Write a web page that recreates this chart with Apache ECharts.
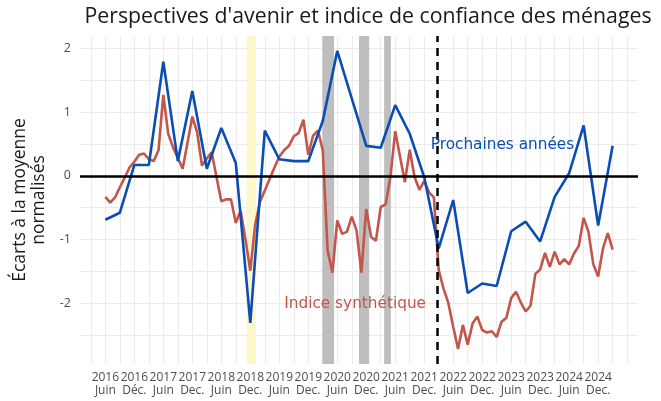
<!DOCTYPE html>
<html><head><meta charset="utf-8">
<script src="https://cdn.jsdelivr.net/npm/echarts@6/dist/echarts.min.js"></script>
<style>html,body{margin:0;padding:0;background:#fff}#c{width:661px;height:401px}</style>
</head><body><div id="c"></div>
<script>
// x values are months counted from June 2016 (0 = June 2016)
const redStartMonth = 0;
const redValues = [
 -0.33,-0.42,-0.34,-0.18,-0.03,0.13,0.22,0.33,0.35,0.26,0.23,0.40,
 1.27,0.66,0.45,0.28,0.11,0.52,0.93,0.68,0.16,0.27,0.37,-0.02,
 -0.40,-0.37,-0.37,-0.74,-0.55,-1.00,-1.49,-0.77,-0.41,-0.23,-0.05,0.13,
 0.30,0.40,0.47,0.62,0.67,0.88,0.33,0.63,0.71,0.40,-1.17,-1.52,
 -0.70,-0.91,-0.88,-0.64,-0.86,-1.52,-0.52,-0.96,-1.02,-0.49,-0.45,-0.02,
 0.70,0.30,-0.10,0.41,-0.02,-0.22,-0.08,-0.26,-0.34,-1.48,-1.77,-2.00,
 -2.37,-2.72,-2.34,-2.65,-2.32,-2.21,-2.42,-2.46,-2.44,-2.53,-2.29,-2.23,
 -1.92,-1.82,-1.99,-2.13,-2.04,-1.54,-1.47,-1.21,-1.43,-1.19,-1.39,-1.31,
 -1.39,-1.22,-1.10,-0.66,-0.88,-1.39,-1.58,-1.14,-0.90,-1.16
];
const blueMonths = [0,3,6,9,12,15,18,21,24,27,30,33,36,39,42,45,48,54,57,60,63,66,69,72,75,78,81,84,87,90,93,96,99,102,105];
const blueValues = [-0.69,-0.58,0.17,0.17,1.79,0.23,1.33,0.11,0.75,0.20,-2.31,0.71,0.26,0.23,0.23,0.86,1.96,0.47,0.44,1.11,0.66,-0.02,-1.14,-0.38,-1.84,-1.69,-1.73,-0.87,-0.72,-1.03,-0.33,0.04,0.79,-0.78,0.47];

const xTickValues = [0,6,12,18,24,30,36,42,48,54,60,66,72,78,84,90,96,102];
const xTickLabels = ['2016\nJuin','2016\nDéc.','2017\nJuin','2017\nDec.','2018\nJuin','2018\nDec.','2019\nJuin','2019\nDec.','2020\nJuin','2020\nDec.','2021\nJuin','2021\nDec.','2022\nJuin','2022\nDec.','2023\nJuin','2023\nDec.','2024\nJuin','2024\nDec.'];
const xGridValues = [-3,0,3,6,9,12,15,18,21,24,27,30,33,36,39,42,45,48,51,54,57,60,63,66,69,72,75,78,81,84,87,90,93,96,99,102,105,108];
const yTickValues = [-2,-1,0,1,2];
const yGridValues = [-2.5,-2,-1.5,-1,-0.5,0,0.5,1,1.5,2];

const yellowBand = [29.25, 31.15];
const grayBands = [[44.9, 47.35],[52.5, 54.6],[57.7, 59.1]];
const eventLine = 68.6;

const titleText = "Perspectives d'avenir et indice de confiance des ménages";
const blueName = 'Prochaines années';
const redName = 'Indice synthétique';
const blueLabelAt = [82.2, 0.48];
const redLabelAt = [51.7, -2.01];

const redData = redValues.map((v, i) => [redStartMonth + i, v]);
const blueData = blueMonths.map((m, i) => [m, blueValues[i]]);

const BLUE = '#0a4db3', RED = '#c4554a';
const FONT = 'Open Sans';
const chart = echarts.init(document.getElementById('c'), null, {renderer: 'canvas'});
chart.setOption({
  animation: false,
  backgroundColor: '#fff',
  title: {text: titleText, left: 363, top: 1, textAlign: 'center',
    textStyle: {fontFamily: FONT, fontSize: 21.3, fontWeight: 'normal', color: '#1a1a1a'}},
  grid: {left: 80, right: 23, top: 36, bottom: 37, containLabel: false, outerBoundsMode: 'none'},
  xAxis: {type: 'value', min: -5.25, max: 110.25,
    axisLine: {show: false},
    axisTick: {show: false, customValues: xGridValues},
    axisLabel: {customValues: xTickValues, hideOverlap: false, margin: 7, color: '#4d4d4d', fontFamily: FONT, fontSize: 12, lineHeight: 13,
      formatter: v => { const i = xTickValues.indexOf(v); return i >= 0 ? xTickLabels[i] : ''; }},
    splitLine: {show: true, lineStyle: {color: '#ebebeb', width: 1}}
  },
  yAxis: {type: 'value', min: -2.954, max: 2.194,
    name: 'Écarts à la moyenne\nnormalisés', nameLocation: 'middle', nameGap: 23, nameRotate: 90,
    nameTextStyle: {fontFamily: FONT, fontSize: 17.5, color: '#1a1a1a', lineHeight: 19},
    axisLine: {show: false},
    axisTick: {show: false, customValues: yGridValues},
    axisLabel: {customValues: yTickValues, margin: 9, color: '#4d4d4d', fontFamily: FONT, fontSize: 12.5},
    splitLine: {show: true, lineStyle: {color: '#ebebeb', width: 1}}
  },
  series: [
    {type: 'line', name: 'bands', data: [], z: 1, silent: true,
      markArea: {silent: true, data: [
        [{xAxis: yellowBand[0], itemStyle: {color: '#fff7cc', opacity: 1}}, {xAxis: yellowBand[1]}],
        ...grayBands.map(b => [{xAxis: b[0], itemStyle: {color: '#bebebe', opacity: 1}}, {xAxis: b[1]}])
      ]}
    },
    {type: 'line', name: 'refs', data: [], z: 2, silent: true,
      markLine: {silent: true, symbol: ['none','none'], label: {show: false}, data: [
        {yAxis: 0, lineStyle: {color: '#000', width: 2.5, type: 'solid'}},
        {xAxis: eventLine, lineStyle: {color: '#000', width: 2.5, type: [8, 6]}}
      ]}
    },
    {type: 'line', name: redName, data: redData, z: 3, showSymbol: false, symbol: 'none',
      lineStyle: {color: RED, width: 2.6}, itemStyle: {color: RED},
      markPoint: {silent: true, symbol: 'circle', symbolSize: 1, itemStyle: {color: 'rgba(0,0,0,0)'},
        label: {show: true, position: 'inside', formatter: redName, color: RED, fontFamily: 'DejaVu Sans', fontSize: 15.3},
        data: [{coord: redLabelAt}]}
    },
    {type: 'line', name: blueName, data: blueData, z: 4, showSymbol: false, symbol: 'none',
      lineStyle: {color: BLUE, width: 2.6}, itemStyle: {color: BLUE},
      markPoint: {silent: true, symbol: 'circle', symbolSize: 1, itemStyle: {color: 'rgba(0,0,0,0)'},
        label: {show: true, position: 'inside', formatter: blueName, color: BLUE, fontFamily: 'DejaVu Sans', fontSize: 15.3},
        data: [{coord: blueLabelAt}]}
    }
  ]
});
</script></body></html>
